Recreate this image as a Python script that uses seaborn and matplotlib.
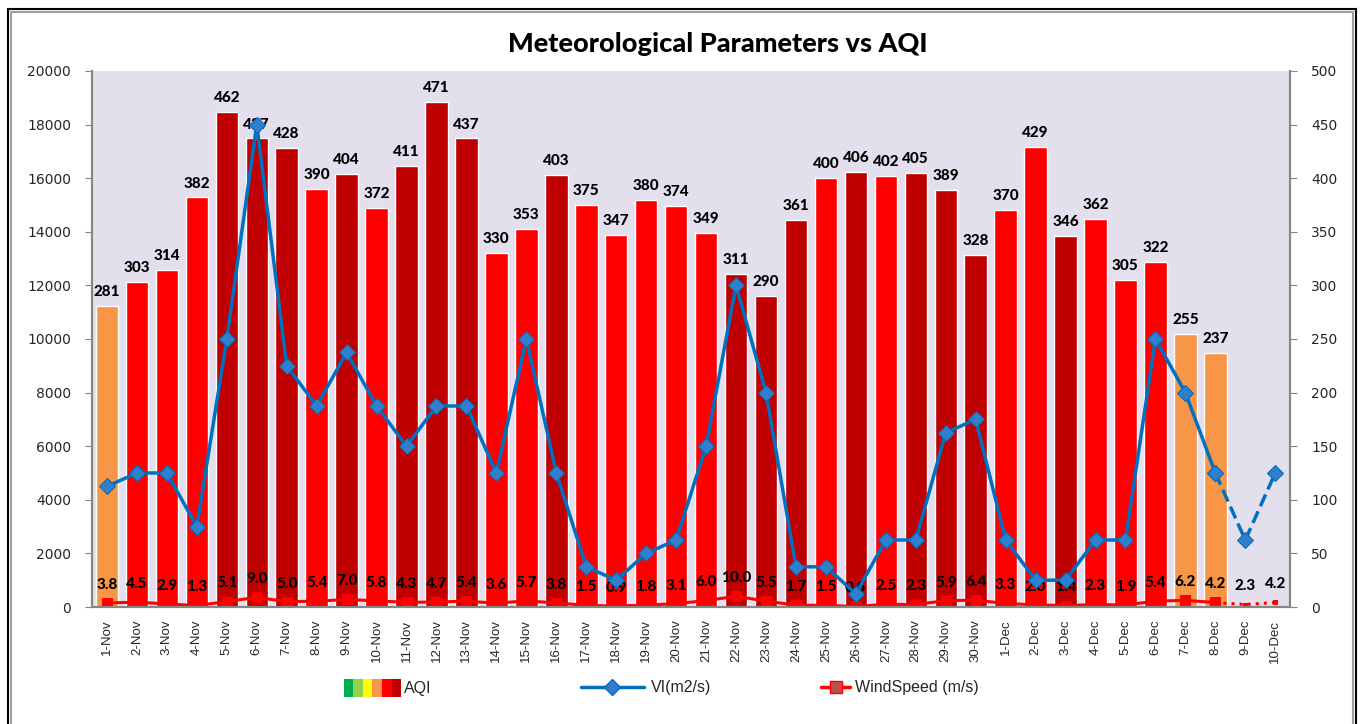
import numpy as np
import pandas as pd
import seaborn as sns
import matplotlib.pyplot as plt
from matplotlib.lines import Line2D
from matplotlib.patches import Patch, Rectangle
from matplotlib.legend_handler import HandlerTuple

# dates on the x axis
dates = ['1-Nov', '2-Nov', '3-Nov', '4-Nov', '5-Nov', '6-Nov', '7-Nov', '8-Nov', '9-Nov', '10-Nov',
         '11-Nov', '12-Nov', '13-Nov', '14-Nov', '15-Nov', '16-Nov', '17-Nov', '18-Nov', '19-Nov', '20-Nov',
         '21-Nov', '22-Nov', '23-Nov', '24-Nov', '25-Nov', '26-Nov', '27-Nov', '28-Nov', '29-Nov', '30-Nov',
         '1-Dec', '2-Dec', '3-Dec', '4-Dec', '5-Dec', '6-Dec', '7-Dec', '8-Dec', '9-Dec', '10-Dec']

# AQI (right axis), no value for 9-Dec and 10-Dec
aqi = [281, 303, 314, 382, 462, 437, 428, 390, 404, 372,
       411, 471, 437, 330, 353, 403, 375, 347, 380, 374,
       349, 311, 290, 361, 400, 406, 402, 405, 389, 328,
       370, 429, 346, 362, 305, 322, 255, 237, None, None]

# colour band of each bar as drawn in the chart
aqi_cat = ['Poor', 'Very Poor', 'Very Poor', 'Very Poor', 'Severe', 'Severe', 'Severe', 'Very Poor', 'Severe', 'Very Poor',
           'Severe', 'Severe', 'Severe', 'Very Poor', 'Very Poor', 'Severe', 'Very Poor', 'Very Poor', 'Very Poor', 'Very Poor',
           'Very Poor', 'Severe', 'Severe', 'Severe', 'Very Poor', 'Severe', 'Very Poor', 'Severe', 'Severe', 'Severe',
           'Very Poor', 'Very Poor', 'Severe', 'Very Poor', 'Very Poor', 'Very Poor', 'Poor', 'Poor', None, None]

# ventilation index (left axis)
vi = [4500, 5000, 5000, 3000, 10000, 18000, 9000, 7500, 9500, 7500,
      6000, 7500, 7500, 5000, 10000, 5000, 1500, 1000, 2000, 2500,
      6000, 12000, 8000, 1500, 1500, 500, 2500, 2500, 6500, 7000,
      2500, 1000, 1000, 2500, 2500, 10000, 8000, 5000, 2500, 5000]

# wind speed (right axis)
wind = [3.8, 4.5, 2.9, 1.3, 5.1, 9.0, 5.0, 5.4, 7.0, 5.8,
        4.3, 4.7, 5.4, 3.6, 5.7, 3.8, 1.5, 0.9, 1.8, 3.1,
        6.0, 10.0, 5.5, 1.7, 1.5, 0.5, 2.5, 2.3, 5.9, 6.4,
        3.3, 2.0, 1.4, 2.3, 1.9, 5.4, 6.2, 4.2, 2.3, 4.2]

cat_colors = {'Poor': '#F79646', 'Very Poor': '#FF0000', 'Severe': '#C00000'}
band_colors = ['#00B050', '#92D050', '#FFFF00', '#F79646', '#FF0000', '#C00000']

n_obs = 38  # last two days are forecast (dashed / dotted)
idx = np.arange(len(dates))

sns.set_style('white')
plt.rcParams['font.family'] = ['DejaVu Sans']

fig = plt.figure(figsize=(13.61, 7.24), dpi=100)
ax = fig.add_axes([0.0676, 0.1616, 0.8804, 0.7404])
ax2 = ax.twinx()
ax.set_facecolor('#E4DFEC')

df = pd.DataFrame({'date': dates, 'aqi': aqi, 'cat': aqi_cat})
sns.barplot(data=df, x='date', y='aqi', hue='cat', palette=cat_colors, order=dates,
            dodge=False, saturation=1, width=0.75, errorbar=None, legend=False, ax=ax)
for c in ax.containers:
    ax.bar_label(c, fmt='%d', padding=5, fontsize=11, fontweight='black', family='Lato', color='black')

# wind speed line on the AQI scale
sns.lineplot(x=idx[:n_obs], y=wind[:n_obs], color='#FF0000', lw=2.2, marker='s', markersize=7,
             mec='#FF0000', ax=ax)
sns.lineplot(x=idx[n_obs - 1:], y=wind[n_obs - 1:], color='#FF0000', lw=2.2, linestyle=':',
             marker='s', markersize=3.5, mec='#FF0000', ax=ax)
for i, w in enumerate(wind):
    ax.annotate(f'{w:.1f}', (i, w), xytext=(0, 8), textcoords='offset points', color='black',
                ha='center', va='bottom', fontsize=11, fontweight='black', family='Lato')

# VI line on the left scale
sns.lineplot(x=idx[:n_obs], y=vi[:n_obs], color='#0070C0', lw=2.5, marker='D', markersize=8,
             mfc='#2F80CC', mec='#0A68BA', ax=ax2)
sns.lineplot(x=idx[n_obs - 1:], y=vi[n_obs - 1:], color='#0070C0', lw=2.5, linestyle='--',
             marker='D', markersize=8, mfc='#2F80CC', mec='#0A68BA', ax=ax2)

# axes
ax.set_xlim(-0.5, len(dates) - 0.5)
ax.set_ylim(0, 500)
ax.set_yticks(range(0, 501, 50))
ax.yaxis.tick_right()
ax2.set_ylim(0, 20000)
ax2.set_yticks(range(0, 20001, 2000))
ax2.yaxis.tick_left()
ax.set_xlabel('')
ax.set_ylabel('')
ax2.set_ylabel('')

ax.set_xticks(idx)
ax.set_xticklabels(dates, rotation=90, fontsize=9.5, family='Liberation Sans')
ax.set_xticks(np.arange(-0.5, len(dates), 1), minor=True)
ax.tick_params(axis='x', which='major', length=0, pad=9)
ax.tick_params(axis='x', which='minor', length=5, color='#868686', direction='out')
ax.tick_params(axis='y', labelsize=10, length=5, color='#868686', direction='out', pad=10)
ax2.tick_params(axis='y', labelsize=10, length=5, color='#868686', direction='out', pad=10)

for a in (ax, ax2):
    a.spines['top'].set_visible(False)
    for s in ('left', 'right', 'bottom'):
        a.spines[s].set_color('#868686')
        a.spines[s].set_linewidth(1.5)

fig.text(0.5276, 0.939, 'Meteorological Parameters vs AQI', ha='center', va='center',
         fontsize=19.5, fontweight='black', family='Lato', color='black')

# legends along the bottom
legend_font = {'family': 'Liberation Sans', 'size': 11.5}
aqi_handle = tuple(Patch(facecolor=c, edgecolor='none') for c in band_colors)
fig.legend([aqi_handle], ['AQI'], handler_map={tuple: HandlerTuple(ndivide=None, pad=0)},
           loc='center left', bbox_to_anchor=(0.242, 0.05), frameon=False,
           handlelength=3.6, handleheight=1.3, handletextpad=0.2, prop=legend_font)
vi_handle = Line2D([], [], color='#0070C0', lw=2.5, marker='D', markersize=8,
                   mfc='#2F80CC', mec='#0A68BA')
fig.legend([vi_handle], ['VI(m2/s)'], loc='center left', bbox_to_anchor=(0.416, 0.05),
           frameon=False, handlelength=4.0, handletextpad=0.4, numpoints=1, prop=legend_font)
wind_handle = Line2D([], [], color='#FF0000', lw=2.5, marker='s', markersize=8,
                     mfc='#C0504D', mec='#FF0000')
fig.legend([wind_handle], ['WindSpeed (m/s)'], loc='center left', bbox_to_anchor=(0.593, 0.05),
           frameon=False, handlelength=1.8, handletextpad=0.3, numpoints=1, prop=legend_font)

# outer chart frame
fig.patches.append(Rectangle((8 / 1361, -0.02), 1348 / 1361, 1.0076, transform=fig.transFigure,
                             fill=False, edgecolor='black', lw=1.5))
fig.patches.append(Rectangle((11 / 1361, -0.02), 1342 / 1361, 1.0035, transform=fig.transFigure,
                             fill=False, edgecolor='#A0A0A0', lw=1.5))

fig.savefig('out.png', dpi=100)
